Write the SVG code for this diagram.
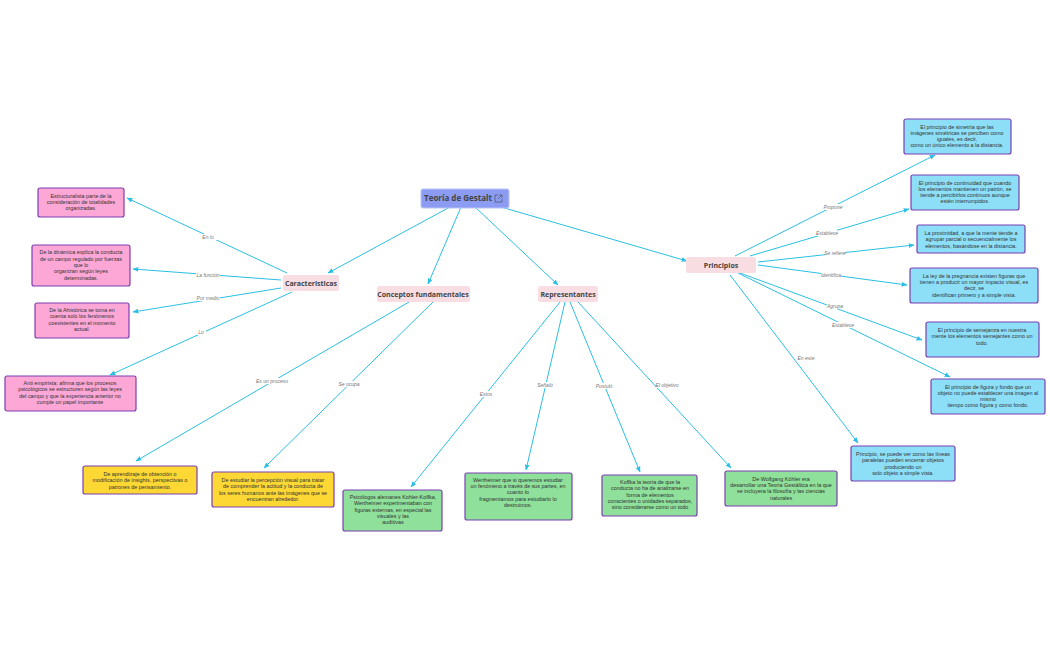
<svg xmlns="http://www.w3.org/2000/svg" width="1050" height="650" viewBox="0 0 1050 650">
<defs>
<marker id="ah" viewBox="0 0 10 10" refX="9" refY="5" markerWidth="6" markerHeight="6" orient="auto"><path d="M0,1 L10,5 L0,9 z" fill="#2bbfe3"/></marker>
<style>
.c{stroke:#2bbfe3;stroke-width:1;fill:none;marker-end:url(#ah)}
.l{font-family:"Liberation Sans",sans-serif;font-size:5px;fill:#777;font-style:italic;text-anchor:middle}
.lb{fill:#fff}
.t{font-family:"Liberation Sans",sans-serif;font-size:5.4px;fill:#333;text-anchor:middle}
.h{font-family:"Open Sans",sans-serif;font-size:7px;font-weight:bold;fill:#444;text-anchor:middle}
.mid{fill:#f8dde3;rx:2}
.pk{fill:#fda7d6;stroke:#7b3fb3;stroke-width:1.2}
.ye{fill:#fdd835;stroke:#7b3fb3;stroke-width:1.2}
.gr{fill:#8ee09a;stroke:#7b3fb3;stroke-width:1.2}
.bl{fill:#8ddff8;stroke:#7b3fb3;stroke-width:1.2}
</style>
</defs>
<rect width="1050" height="650" fill="#fff"/>
<g id="connectors">
<path class="c" d="M450,207 L328,273"/><path class="c" d="M461,207 L428,284"/><path class="c" d="M475,207 L558,285"/><path class="c" d="M501,207 L687,261"/>
<path class="c" d="M287,273 L127,198"/><path class="c" d="M281,280 L133,269"/><path class="c" d="M281,288 L133,312"/><path class="c" d="M292,292 L110,375"/>
<path class="c" d="M409,302 L136,461"/><path class="c" d="M433,302 L264,468"/>
<path class="c" d="M560,302 L411,487"/><path class="c" d="M565,302 L526,470"/><path class="c" d="M570,302 L640,472"/><path class="c" d="M578,302 L731,468"/>
<path class="c" d="M735,256 L935,155"/><path class="c" d="M750,256 L909,209"/><path class="c" d="M758,262 L914,245"/><path class="c" d="M758,265 L907,285"/><path class="c" d="M740,273 L922,340"/><path class="c" d="M738,273 L950,377"/><path class="c" d="M730,275 L858,443"/>
<g>
<rect class="lb" x="199" y="234" width="18" height="6"/><text class="l" x="208" y="239">En lo</text>
<rect class="lb" x="196" y="272" width="24" height="6"/><text class="l" x="208" y="277">La función</text>
<rect class="lb" x="196" y="295" width="24" height="6"/><text class="l" x="208" y="300">Por medio</text>
<rect class="lb" x="196" y="329" width="10" height="6"/><text class="l" x="201" y="334">Lo</text>
<rect class="lb" x="257" y="378" width="30" height="6"/><text class="l" x="272" y="383">Es un proceso</text>
<rect class="lb" x="338" y="381" width="22" height="6"/><text class="l" x="349" y="386">Se ocupa</text>
<rect class="lb" x="478" y="391" width="16" height="6"/><text class="l" x="486" y="396">Estos</text>
<rect class="lb" x="537" y="382" width="16" height="6"/><text class="l" x="545" y="387">Señaló</text>
<rect class="lb" x="596" y="383" width="16" height="6"/><text class="l" x="604" y="388">Postuló</text>
<rect class="lb" x="656" y="382" width="22" height="6"/><text class="l" x="667" y="387">El objetivo</text>
<rect class="lb" x="823" y="204" width="20" height="6"/><text class="l" x="833" y="209">Propone</text>
<rect class="lb" x="817" y="230" width="20" height="6"/><text class="l" x="827" y="235">Establece</text>
<rect class="lb" x="825" y="250" width="20" height="6"/><text class="l" x="835" y="255">Se refiere</text>
<rect class="lb" x="821" y="272" width="20" height="6"/><text class="l" x="831" y="277">Identifica</text>
<rect class="lb" x="827" y="303" width="16" height="6"/><text class="l" x="835" y="308">Agrupa</text>
<rect class="lb" x="833" y="322" width="20" height="6"/><text class="l" x="843" y="327">Establece</text>
<rect class="lb" x="798" y="355" width="16" height="6"/><text class="l" x="806" y="360">En este</text>
</g>
</g>
<g id="root"><rect x="421" y="189" width="88" height="19" rx="2" fill="#8c9cf2" stroke="#b8c2f8"/><text class="h" x="458" y="201" style="font-size:8px">Teoría de Gestalt</text><path d="M498,195 h-3 v7 h7 v-3 M499,195 h3 v3 M502,195 l-4,4" stroke="#555" stroke-width="0.7" fill="none"/></g>
<g id="caracteristicas"><rect class="mid" x="283" y="275" width="56" height="16" rx="2"/><text class="h" x="311" y="286">Caracteristicas</text></g>
<g id="conceptos"><rect class="mid" x="377" y="286" width="93" height="16" rx="2"/><text class="h" x="423" y="297">Conceptos fundamentales</text></g>
<g id="representantes"><rect class="mid" x="538" y="286" width="60" height="16" rx="2"/><text class="h" x="568" y="297">Representantes</text></g>
<g id="principios"><rect class="mid" x="686" y="257" width="70" height="16" rx="2"/><text class="h" x="721" y="268">Principios</text></g>
<g id="n1"><rect class="pk" x="38" y="188" width="86" height="29" rx="2"/><text class="t"><tspan x="81" y="198">Estructuralista parte de la</tspan><tspan x="81" y="204">consideración de totalidades</tspan><tspan x="81" y="210">organizadas.</tspan></text></g>
<g id="n2"><rect class="pk" x="32" y="245" width="98" height="41" rx="2"/><text class="t"><tspan x="81" y="254">De la dinámica  explica la conducta</tspan><tspan x="81" y="261">de un campo regulado por fuerzas</tspan><tspan x="81" y="267">que lo</tspan><tspan x="81" y="273">organizan según leyes</tspan><tspan x="81" y="280">determinadas.</tspan></text></g>
<g id="n3"><rect class="pk" x="35" y="303" width="94" height="35" rx="2"/><text class="t"><tspan x="82" y="312">De la Ahistórica se toma en</tspan><tspan x="82" y="318">cuenta solo los fenómenos</tspan><tspan x="82" y="325">coexistentes en el momento</tspan><tspan x="82" y="331">actual.</tspan></text></g>
<g id="n4"><rect class="pk" x="5" y="376" width="131" height="35" rx="2"/><text class="t"><tspan x="70" y="385">Anti empirista: afirma que los procesos</tspan><tspan x="70" y="391">psicológicos se estructuren según las leyes</tspan><tspan x="70" y="398">del campo y que la experiencia anterior no</tspan><tspan x="70" y="404">cumple un papel importante</tspan></text></g>
<g id="n5"><rect class="ye" x="83" y="466" width="114" height="28" rx="2"/><text class="t"><tspan x="140" y="476">De aprendizaje de obtención o</tspan><tspan x="140" y="482">modificación de insights, perspectivas o</tspan><tspan x="140" y="489">patrones de pensamiento.</tspan></text></g>
<g id="n6"><rect class="ye" x="212" y="472" width="122" height="35" rx="2"/><text class="t"><tspan x="273" y="482">De estudiar la percepción visual para tratar</tspan><tspan x="273" y="488">de comprender la actitud y la conducta de</tspan><tspan x="273" y="495">los seres humanos ante las imágenes que se</tspan><tspan x="273" y="501">encuentran alrededor.</tspan></text></g>
<g id="n7"><rect class="gr" x="343" y="490" width="99" height="41" rx="2"/><text class="t"><tspan x="393" y="499">Psicólogos alemanes Kohler-Koffka,</tspan><tspan x="393" y="505">Wertheimer experimentaban con</tspan><tspan x="393" y="512">figuras externas, en especial las</tspan><tspan x="393" y="518">visuales y las</tspan><tspan x="393" y="524">auditivas</tspan></text></g>
<g id="n8"><rect class="gr" x="465" y="473" width="107" height="47" rx="2"/><text class="t"><tspan x="518" y="482">Wertheimer que si queremos estudiar</tspan><tspan x="518" y="488">un fenómeno a través de sus partes, en</tspan><tspan x="518" y="494">cuanto lo</tspan><tspan x="518" y="501">fragmentamos para estudiarlo lo</tspan><tspan x="518" y="507">destruimos.</tspan></text></g>
<g id="n9"><rect class="gr" x="602" y="475" width="95" height="41" rx="2"/><text class="t"><tspan x="650" y="484">Koffka la teoría de que la</tspan><tspan x="650" y="490">conducta no ha de analizarse en</tspan><tspan x="650" y="497">forma de elementos</tspan><tspan x="650" y="503">conscientes o unidades separados,</tspan><tspan x="650" y="509">sino considerarse como un todo</tspan></text></g>
<g id="n10"><rect class="gr" x="725" y="471" width="112" height="35" rx="2"/><text class="t"><tspan x="781" y="481">De Wolfgang Köhler era</tspan><tspan x="781" y="487">desarrollar una Teoría Gestáltica en la que</tspan><tspan x="781" y="493">se incluyera la filosofía y las ciencias</tspan><tspan x="781" y="500">naturales</tspan></text></g>
<g id="n11"><rect class="bl" x="904" y="119" width="107" height="35" rx="2"/><text class="t"><tspan x="957" y="129">El principio de simetría que las</tspan><tspan x="957" y="135">imágenes simétricas se perciben como</tspan><tspan x="957" y="141">iguales, es decir,</tspan><tspan x="957" y="147">como un único elemento a la distancia.</tspan></text></g>
<g id="n12"><rect class="bl" x="911" y="175" width="108" height="35" rx="2"/><text class="t"><tspan x="965" y="185">El principio de continuidad que cuando</tspan><tspan x="965" y="191">los elementos mantienen un patrón, se</tspan><tspan x="965" y="197">tiende a percibirlos continuos aunque</tspan><tspan x="965" y="203">estén interrumpidos.</tspan></text></g>
<g id="n13"><rect class="bl" x="917" y="225" width="108" height="28" rx="2"/><text class="t"><tspan x="971" y="235">La proximidad, a que la mente tiende a</tspan><tspan x="971" y="241">agrupar parcial o secuencialmente los</tspan><tspan x="971" y="248">elementos, basándose en la distancia.</tspan></text></g>
<g id="n14"><rect class="bl" x="910" y="268" width="128" height="35" rx="2"/><text class="t"><tspan x="974" y="278">La ley de la pregnancia existen figuras que</tspan><tspan x="974" y="284">tienen a producir un mayor impacto visual, es</tspan><tspan x="974" y="290">decir, se</tspan><tspan x="974" y="297">identifican primero y a simple vista.</tspan></text></g>
<g id="n15"><rect class="bl" x="926" y="322" width="113" height="35" rx="2"/><text class="t"><tspan x="982" y="332">El principio de semejanza en nuestra</tspan><tspan x="982" y="338">mente los elementos semejantes como un</tspan><tspan x="982" y="345">todo.</tspan></text></g>
<g id="n16"><rect class="bl" x="931" y="379" width="114" height="35" rx="2"/><text class="t"><tspan x="988" y="389">El principio de figura y fondo que un</tspan><tspan x="988" y="395">objeto no puede establecer una imagen al</tspan><tspan x="988" y="401">mismo</tspan><tspan x="988" y="407">tiempo como figura y como fondo.</tspan></text></g>
<g id="n17"><rect class="bl" x="851" y="446" width="104" height="35" rx="2"/><text class="t"><tspan x="903" y="456">Principio, se puede ver como las líneas</tspan><tspan x="903" y="462">paralelas pueden encerrar objetos</tspan><tspan x="903" y="469">produciendo un</tspan><tspan x="903" y="475">solo objeto a simple vista.</tspan></text></g>
</svg>
